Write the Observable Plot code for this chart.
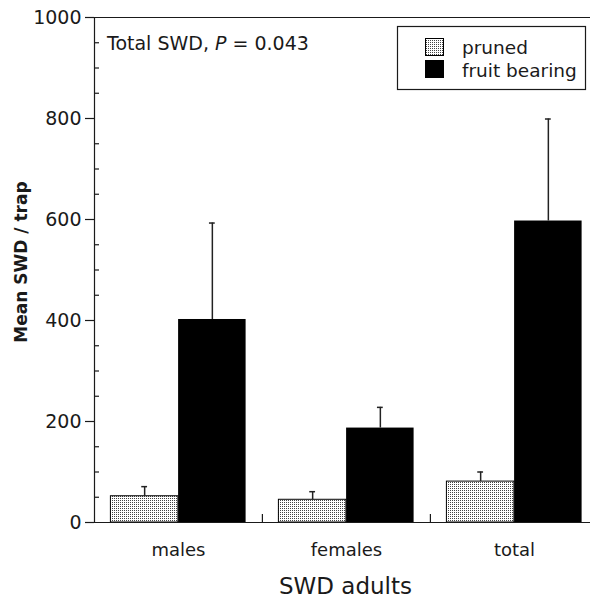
<!DOCTYPE html>
<html>
<head>
<meta charset="utf-8">
<script src="https://cdn.jsdelivr.net/npm/d3@7"></script>
<script src="https://cdn.jsdelivr.net/npm/@observablehq/plot@0.6"></script>
<style>
  html, body { margin: 0; padding: 0; background: #fff; }
  #chart svg { display: block; }
</style>
</head>
<body>
<div id="chart"></div>
<script>
// Mean SWD adults per trap, pruned vs fruit-bearing plantings
const categories = ["males", "females", "total"];
const seriesNames = ["pruned", "fruit bearing"];
const prunedMean = [52, 45, 81];
const prunedUpper = [71, 61, 100];   // mean + SE
const fruitMean = [402, 187, 597];
const fruitUpper = [593, 228, 799];  // mean + SE
const yTicks = [0, 200, 400, 600, 800, 1000];
const yMinorTicks = [50, 100, 150, 250, 300, 350, 450, 500, 550, 650, 700, 750, 850, 900, 950];
const noteParts = ["Total SWD, ", "P", " = 0.043"];
const xTitle = "SWD adults";
const yTitle = "Mean SWD / trap";

// layout
const W = 590, H = 600, ML = 94, MT = 17, MB = 78, MR = 0;
const STEP = 168.2;          // width of one category band
const HALF = STEP / 2;
const BAR = 67.7;            // width of a single bar
const FONT = "'DejaVu Sans', sans-serif";
const INK = "#1a1a1a";

const pruned = categories.map((c, i) => ({category: c, mean: prunedMean[i], upper: prunedUpper[i]}));
const fruit = categories.map((c, i) => ({category: c, mean: fruitMean[i], upper: fruitUpper[i]}));

// stipple fill used for the pruned bars
function stippleDefs() {
  const g = d3.create("svg:g");
  const p = g.append("defs").append("pattern")
    .attr("id", "stipple").attr("patternUnits", "userSpaceOnUse")
    .attr("width", 2).attr("height", 2);
  p.append("rect").attr("width", 2).attr("height", 2).attr("fill", "#fff");
  p.append("rect").attr("width", 1).attr("height", 1).attr("fill", "#444");
  return g.node();
}

// boxed legend in the upper right corner
function legend() {
  const g = d3.create("svg:g").attr("font-family", FONT).attr("font-size", 18.5)
    .attr("fill", INK).attr("text-anchor", "start");
  g.append("rect").attr("x", 397.5).attr("y", 26.5).attr("width", 188).attr("height", 63)
    .attr("fill", "#fff").attr("stroke", INK).attr("stroke-width", 1.2);
  const fills = ["url(#stipple)", "#000"];
  seriesNames.forEach((name, i) => {
    g.append("rect").attr("x", 425.5).attr("y", 38.5 + i * 22).attr("width", 18).attr("height", 17)
      .attr("fill", fills[i]).attr("stroke", "#000").attr("stroke-width", 1);
    g.append("text").attr("x", 462).attr("y", 54 + i * 23).text(name);
  });
  return g.node();
}

// annotation with italic P
function note() {
  const g = d3.create("svg:g").attr("text-anchor", "start");
  const t = g.append("text").attr("x", 107).attr("y", 49.5)
    .attr("font-family", FONT).attr("font-size", 19).attr("fill", INK);
  noteParts.forEach((s, i) => {
    const ts = t.append("tspan").text(s);
    if (i === 1) ts.attr("font-style", "italic");
  });
  return g.node();
}

const chart = Plot.plot({
  width: W,
  height: H,
  marginTop: MT,
  marginLeft: ML,
  marginRight: MR,
  marginBottom: MB,
  style: {fontFamily: FONT, color: INK, background: "#fff"},
  x: {domain: categories, range: [ML - 0.4, ML - 0.4 + STEP * categories.length], padding: 0, axis: null},
  y: {domain: [0, 1000], axis: null},
  marks: [
    stippleDefs,
    // bars
    Plot.barY(pruned, {x: "category", y: "mean", fill: "url(#stipple)", stroke: "#000", strokeWidth: 1,
      insetLeft: HALF - BAR, insetRight: HALF}),
    Plot.barY(fruit, {x: "category", y: "mean", fill: "#000",
      insetLeft: HALF, insetRight: HALF - BAR}),
    // upper error bars
    Plot.ruleX(pruned, {x: "category", y1: "mean", y2: "upper", dx: -BAR / 2, stroke: "#222", strokeWidth: 1.5}),
    Plot.ruleX(fruit, {x: "category", y1: "mean", y2: "upper", dx: BAR / 2, stroke: "#222", strokeWidth: 1.5}),
    Plot.tickY(pruned, {x: "category", y: "upper", dx: -BAR / 2, insetLeft: HALF - 3, insetRight: HALF - 3, stroke: "#222", strokeWidth: 1.5}),
    Plot.tickY(fruit, {x: "category", y: "upper", dx: BAR / 2, insetLeft: HALF - 3, insetRight: HALF - 3, stroke: "#222", strokeWidth: 1.5}),
    // axes
    Plot.frame({anchor: "left", stroke: INK, strokeWidth: 1.2}),
    Plot.frame({anchor: "top", stroke: INK, strokeWidth: 1.2}),
    Plot.frame({anchor: "bottom", stroke: INK, strokeWidth: 1.2}),
    Plot.axisY(yTicks, {tickSize: 9, tickPadding: 4, fontSize: 19, label: null, strokeWidth: 1.2, tickFormat: d => String(d)}),
    Plot.tickY(yMinorTicks, {y: d => d, insetRight: W - ML - MR - 5, stroke: INK, strokeWidth: 1.2}),
    Plot.ruleX(categories.slice(1), {x: d => d, dx: -HALF, insetTop: H - MT - MB - 8, stroke: INK, strokeWidth: 1.2}),
    Plot.axisX({tickSize: 0, tickPadding: 21, fontSize: 18, label: null}),
    Plot.text([xTitle], {text: d => d, frameAnchor: "bottom", dx: 3, dy: 64, lineAnchor: "middle", textAnchor: "middle", fontSize: 23}),
    Plot.text([yTitle], {text: d => d, frameAnchor: "left", dx: -73, dy: -8, rotate: -90, textAnchor: "middle", lineAnchor: "middle", fontSize: 17, fontWeight: "bold"}),
    note,
    legend
  ]
});

document.getElementById("chart").append(chart);
</script>
</body>
</html>
